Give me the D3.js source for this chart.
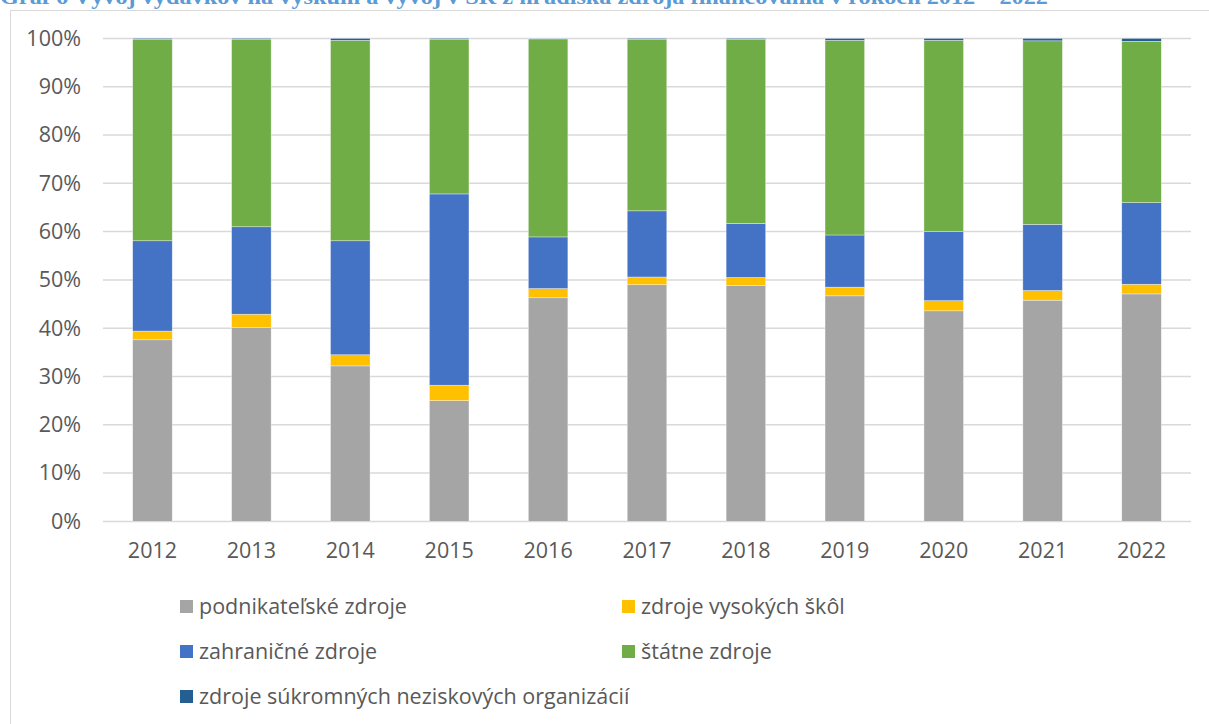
<!DOCTYPE html>
<html>
<head>
<meta charset="utf-8">
<script src="https://cdn.jsdelivr.net/npm/d3@7"></script>
<style>
  body { margin: 0; background: #fff; }
  svg { display: block; }
</style>
</head>
<body>
<div id="chart"></div>
<script>
// data (share of R&D spending by source, %)
var years = ["2012","2013","2014","2015","2016","2017","2018","2019","2020","2021","2022"];
var podnikatelske = [37.6, 40.1, 32.2, 25.0, 46.3, 49.0, 48.8, 46.7, 43.6, 45.8, 47.1];
var vysokeSkoly   = [1.8, 2.8, 2.3, 3.2, 1.9, 1.6, 1.7, 1.8, 2.1, 2.0, 2.0];
var zahranicne    = [18.7, 18.1, 23.6, 39.6, 10.7, 13.7, 11.2, 10.8, 14.3, 13.7, 16.9];
var statne        = [41.7, 38.8, 41.5, 32.0, 41.0, 35.5, 38.1, 40.3, 39.6, 38.0, 33.4];
var neziskove     = [0.2, 0.2, 0.4, 0.2, 0.1, 0.2, 0.2, 0.4, 0.4, 0.5, 0.6];

var seriesNames = ["podnikateľské zdroje", "zdroje vysokých škôl", "zahraničné zdroje", "štátne zdroje", "zdroje súkromných neziskových organizácií"];
var yTicks = [0, 0.1, 0.2, 0.3, 0.4, 0.5, 0.6, 0.7, 0.8, 0.9, 1];
var title = "Graf 6 Vývoj výdavkov na výskum a vývoj v SR z hľadiska zdroja financovania v rokoch 2012 – 2022";

var colors = ["#A5A5A5", "#FFC000", "#4472C4", "#70AD47", "#255E91"];

var W = 1209, H = 724;
var textCol = "#595959";
var font = "'Open Sans', sans-serif";
var fontSize = "21.5px";

function init(){
  var keys = ["p","v","z","s","n"];
  var all = [podnikatelske, vysokeSkoly, zahranicne, statne, neziskove];
  var rows = years.map(function(y, i){
    var r = {year: y};
    keys.forEach(function(k, j){ r[k] = all[j][i] / 100; });
    return r;
  });
  var stack = d3.stack().keys(keys)(rows);

  var svg = d3.select("#chart").append("svg")
      .attr("width", W).attr("height", H);

  // chart frame
  svg.append("rect")
     .attr("x", 10.5).attr("y", 10.5)
     .attr("width", W + 20).attr("height", H + 20)
     .attr("fill", "none").attr("stroke", "#d9d9d9").attr("stroke-width", 1);

  // title (cut off at the top like the reference)
  svg.append("text")
     .attr("x", 0).attr("y", 4)
     .attr("font-family", "'Liberation Serif', serif")
     .attr("font-weight", "bold")
     .attr("font-size", "22px")
     .attr("fill", "#5B9BD5")
     .attr("textLength", 1048)
     .attr("lengthAdjust", "spacingAndGlyphs")
     .text(title);

  var xScale = d3.scaleBand()
      .domain(years)
      .range([103, 1191])
      .paddingInner(0.6)
      .paddingOuter(0.3);

  var yScale = d3.scaleLinear()
      .domain([0, 1])
      .range([521.4, 38.4]);

  // gridlines
  svg.append("g")
     .selectAll("line")
     .data(yTicks)
     .enter().append("line")
     .attr("x1", 103).attr("x2", 1191)
     .attr("y1", function(d){ return yScale(d); })
     .attr("y2", function(d){ return yScale(d); })
     .attr("stroke", "#d9d9d9").attr("stroke-width", 1.5);

  // y axis
  var yAxis = svg.append("g")
     .attr("transform", "translate(81,0)")
     .call(d3.axisLeft(yScale).tickValues(yTicks).tickSize(0).tickPadding(0).tickFormat(d3.format(".0%")));
  yAxis.select(".domain").remove();
  yAxis.selectAll("text")
     .attr("font-family", font).attr("font-size", fontSize).attr("fill", textCol);

  // bars
  var series = svg.selectAll("g.layer")
      .data(stack)
      .enter().append("g")
      .attr("class", "layer")
      .attr("fill", function(d, i){ return colors[i]; });

  series.selectAll("rect")
      .data(function(d){ return d; })
      .enter().append("rect")
      .attr("x", function(d){ return xScale(d.data.year); })
      .attr("width", xScale.bandwidth())
      .attr("y", function(d){ return yScale(d[1]); })
      .attr("height", function(d){ return yScale(d[0]) - yScale(d[1]); })
      .attr("stroke", "#ffffff").attr("stroke-width", 0.6).attr("stroke-opacity", 0.6);

  // x axis
  var xAxis = svg.append("g")
     .attr("transform", "translate(0," + 521.4 + ")")
     .call(d3.axisBottom(xScale).tickSize(0).tickPadding(21));
  xAxis.select(".domain").remove();
  xAxis.selectAll("text")
     .attr("font-family", font).attr("font-size", fontSize).attr("fill", textCol);

  // legend, two columns
  var legend = svg.selectAll("g.leg")
      .data(seriesNames)
      .enter().append("g")
      .attr("class", "leg")
      .attr("transform", function(d, i){
        var col = i % 2, row = Math.floor(i / 2);
        return "translate(" + (col ? 622 : 180) + "," + (606 + row * 45) + ")";
      });
  legend.append("rect")
      .attr("x", 0).attr("y", -6)
      .attr("width", 13).attr("height", 13)
      .attr("fill", function(d, i){ return colors[i]; });
  legend.append("text")
      .attr("x", 19).attr("y", 0)
      .attr("dy", "0.35em")
      .attr("font-family", font).attr("font-size", fontSize).attr("fill", textCol)
      .text(function(d){ return d; });
}

window.onload = init;
</script>
</body>
</html>
